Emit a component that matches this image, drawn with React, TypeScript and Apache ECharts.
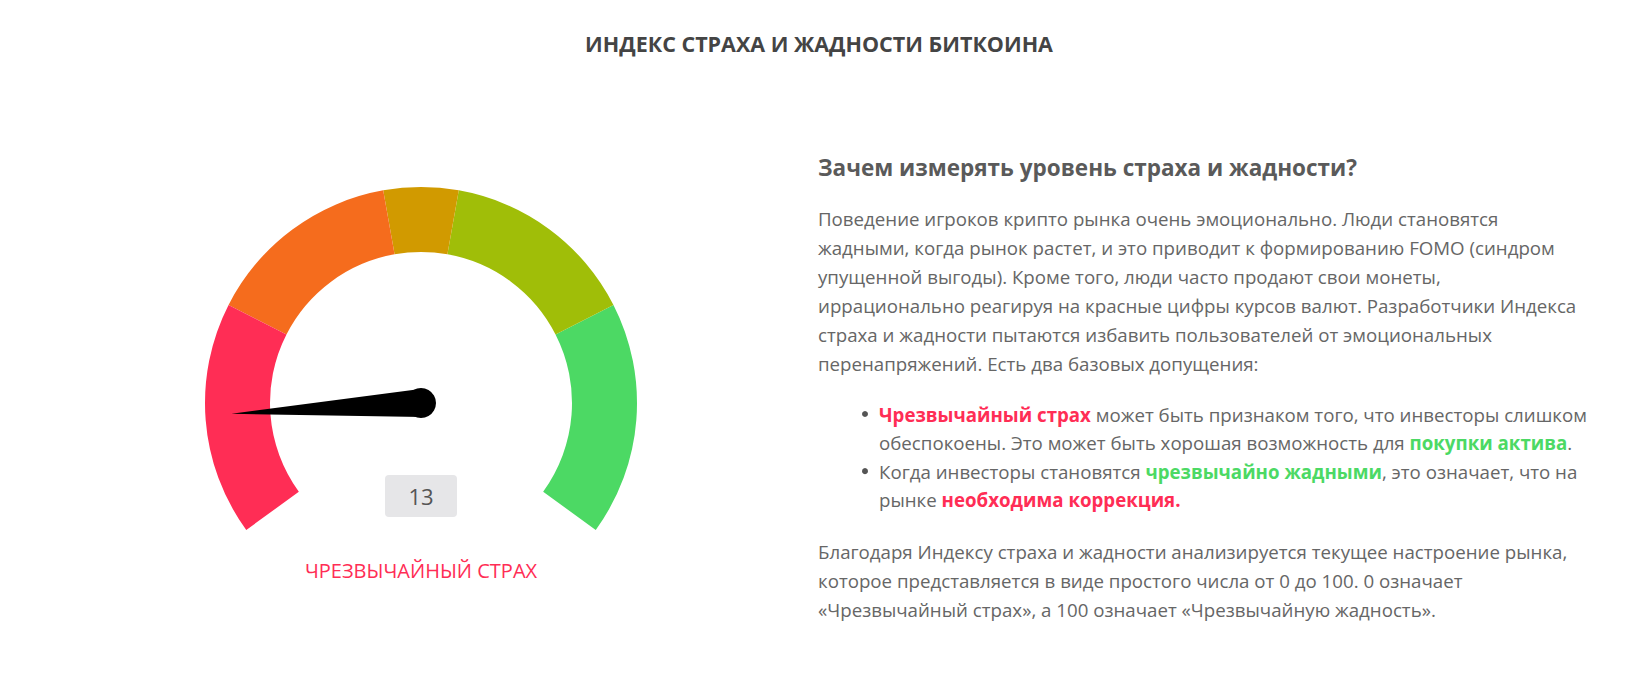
import React, { useEffect, useRef } from "react";
import * as echarts from "echarts";

const indexValue = 13;
const stateLabel = "ЧРЕЗВЫЧАЙНЫЙ СТРАХ";
const bandStops = [0.25, 0.46, 0.54, 0.75, 1];
const bandColors = ["#FF2D55", "#F56C1D", "#D19A00", "#A0BE08", "#4CD964"];
const chartTitle = "ИНДЕКС СТРАХА И ЖАДНОСТИ БИТКОИНА";
const heading = "Зачем измерять уровень страха и жадности?";
const para1 = [
  "Поведение игроков крипто рынка очень эмоционально. Люди становятся",
  "жадными, когда рынок растет, и это приводит к формированию FOMO (синдром",
  "упущенной выгоды). Кроме того, люди часто продают свои монеты,",
  "иррационально реагируя на красные цифры курсов валют. Разработчики Индекса",
  "страха и жадности пытаются избавить пользователей от эмоциональных",
  "перенапряжений. Есть два базовых допущения:",
];
const bullets = [
  ["{r|Чрезвычайный страх}{n| может быть признаком того, что инвесторы слишком}", "{n|обеспокоены. Это может быть хорошая возможность для }{g|покупки актива}{n|.}"],
  ["{n|Когда инвесторы становятся }{g|чрезвычайно жадными}{n|, это означает, что на}", "{n|рынке }{r|необходима коррекция.}"],
];
const para3 = [
  "Благодаря Индексу страха и жадности анализируется текущее настроение рынка,",
  "которое представляется в виде простого числа от 0 до 100. 0 означает",
  "«Чрезвычайный страх», а 100 означает «Чрезвычайную жадность».",
];

const FONT = "Open Sans";
const TEXT_COLOR = "#666666";
const BODY_SIZE = 18.7;
const LH = 29;

const rich = {
  n: { fontFamily: FONT, fontSize: BODY_SIZE, fill: TEXT_COLOR },
  r: { fontFamily: FONT, fontSize: BODY_SIZE, fill: "#FF2D55", fontWeight: "bold" },
  g: { fontFamily: FONT, fontSize: BODY_SIZE, fill: "#4CD964", fontWeight: "bold" },
  t: { fontFamily: FONT, fontSize: 21.5, fill: "#444444", fontWeight: "bold" },
  h: { fontFamily: FONT, fontSize: 22.5, fill: "#5a5a5a", fontWeight: "bold" },
};

export default function App() {
  const ref = useRef<HTMLDivElement>(null);
  useEffect(() => {
    document.body.style.margin = "0";
    const chart = echarts.init(ref.current!, null, { renderer: "svg" });
    const graphics: any[] = [];
    const rt = (x: number, y: number, text: string, align = "left") => ({
      type: "text",
      x,
      y,
      style: { text, rich, align, verticalAlign: "middle" },
    });
    graphics.push(rt(819, 43, `{t|${chartTitle}}`, "center"));
    graphics.push(rt(818, 167, `{h|${heading}}`));
    const X0 = 818;
    let y = 218.5;
    para1.forEach((line) => {
      graphics.push(rt(X0, y, `{n|${line}}`));
      y += LH;
    });
    let by = 414;
    bullets.forEach((b) => {
      graphics.push({ type: "circle", shape: { cx: 865, cy: by, r: 3 }, style: { fill: "#555" } });
      b.forEach((line) => {
        graphics.push(rt(879, by, line));
        by += LH * 0.985;
      });
    });
    let py = 551;
    para3.forEach((line) => {
      graphics.push(rt(X0, py, `{n|${line}}`));
      py += LH;
    });

    chart.setOption({
      animation: false,
      graphic: graphics,
      series: [
        {
          type: "gauge",
          center: [421, 403],
          radius: 216,
          min: 0,
          max: 100,
          startAngle: 216,
          endAngle: -36,
          axisLine: {
            lineStyle: {
              width: 65,
              color: bandStops.map((s, i) => [s, bandColors[i]]),
            },
          },
          axisTick: { show: false },
          splitLine: { show: false },
          axisLabel: { show: false },
          pointer: {
            icon: "path://M15 0 L30 200 L0 200 Z",
            length: 190,
            width: 28,
            itemStyle: { color: "#000" },
          },
          anchor: { show: true, size: 30, showAbove: true, itemStyle: { color: "#000" } },
          title: {
            offsetCenter: [0, 167],
            color: "#FF2D55",
            fontSize: 20,
            fontFamily: FONT,
          },
          detail: {
            offsetCenter: [0, 93],
            width: 72,
            height: 42,
            lineHeight: 42,
            padding: 0,
            backgroundColor: "#E6E6E8",
            borderRadius: 4,
            color: "#555555",
            fontSize: 22,
            fontFamily: FONT,
            fontWeight: "normal",
            valueAnimation: false,
            formatter: "{value}",
          },
          data: [{ value: indexValue, name: stateLabel }],
        },
      ],
    });
    return () => chart.dispose();
  }, []);
  return <div ref={ref} style={{ width: 1638, height: 682 }} />;
}
